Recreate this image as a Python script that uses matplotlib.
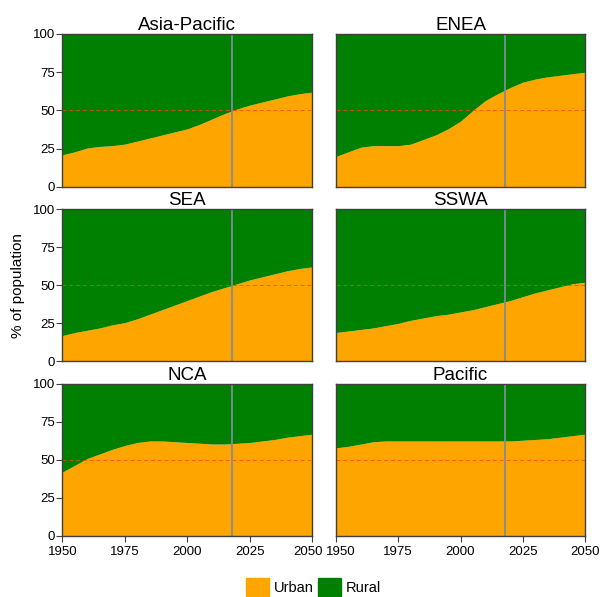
import matplotlib
matplotlib.use("Agg")
import matplotlib.pyplot as plt
import matplotlib.transforms as mtransforms
from matplotlib.patches import Patch

plt.rcParams['font.family'] = ['Liberation Sans', 'DejaVu Sans']

years = [1950, 1955, 1960, 1965, 1970, 1975, 1980, 1985, 1990, 1995, 2000,
         2005, 2010, 2015, 2020, 2025, 2030, 2035, 2040, 2045, 2050]

regions = ["Asia-Pacific", "ENEA", "SEA", "SSWA", "NCA", "Pacific"]

urban_asia_pacific = [21, 23, 25.5, 26.5, 27, 28, 30, 32, 34, 36, 38,
                      41, 44.5, 48, 51, 53.5, 55.5, 57.5, 59.5, 61, 62]
urban_enea = [20, 23, 26, 27, 27, 27, 28, 31, 34, 38, 43,
              50, 56.5, 61, 65, 68.5, 70.5, 72, 73, 74, 75]
urban_sea = [17, 19, 20.5, 22, 24, 25.5, 28, 31, 34, 37, 40,
             43, 46, 48.5, 51, 53.5, 55.5, 57.5, 59.5, 61, 62]
urban_sswa = [19, 20, 21, 22, 23.5, 25, 27, 28.5, 30, 31, 32.5,
              34, 36, 38, 40, 42.5, 45, 47, 49, 51, 52]
urban_nca = [42, 46.5, 51, 54, 57, 59.5, 61.5, 62.5, 62.5, 62, 61.5,
             61, 60.5, 60.5, 61, 61.5, 62.5, 63.5, 65, 66, 67]
urban_pacific = [58, 59, 60.5, 62, 62.5, 62.5, 62.5, 62.5, 62.5, 62.5, 62.5,
                 62.5, 62.5, 62.5, 62.5, 63, 63.5, 64, 65, 66, 67]

urban = [urban_asia_pacific, urban_enea, urban_sea, urban_sswa, urban_nca, urban_pacific]

current_year = 2018
c_urban = "#FFA500"
c_rural = "#008000"

fig = plt.figure(figsize=(6.03, 5.97), dpi=100)

lefts = [0.1033, 0.5572]
widths = [0.4146, 0.413]
bottoms = [0.6868, 0.3945, 0.1022]
heights = [0.2563, 0.2554, 0.2546]

for i, (name, u) in enumerate(zip(regions, urban)):
    row, col = divmod(i, 2)
    ax = fig.add_axes([lefts[col], bottoms[row], widths[col], heights[row]])
    ax.fill_between(years, 0, u, color=c_urban, lw=0)
    ax.fill_between(years, u, 100, color=c_rural, lw=0)
    ax.axhline(50, color="#FF4500", lw=0.7, ls=(0, (4, 3)), alpha=0.8)
    ax.axvline(current_year, color="#7F8C9A", lw=1.3)
    ax.set_xlim(1950, 2050)
    ax.set_ylim(0, 100)
    ax.set_title(name, fontsize=13.5, pad=3)
    for s in ax.spines.values():
        s.set_color("#404040")
        s.set_linewidth(1.0)
    ax.set_xticks([1950, 1975, 2000, 2025, 2050])
    ax.set_yticks([0, 25, 50, 75, 100])
    ax.tick_params(labelsize=9.5, length=4, color="#404040")
    ax.tick_params(axis="x", pad=3)
    ax.tick_params(axis="y", pad=1)
    if col == 1:
        ax.tick_params(axis="y", left=False, labelleft=False)
    if row < 2:
        ax.tick_params(axis="x", bottom=False, labelbottom=False)
    else:
        # nudge the touching end labels apart, like the original
        labs = ax.get_xticklabels()
        if col == 0:
            off = mtransforms.ScaledTranslation(-4 / 100, 0, fig.dpi_scale_trans)
            labs[-1].set_transform(labs[-1].get_transform() + off)
        else:
            off = mtransforms.ScaledTranslation(5 / 100, 0, fig.dpi_scale_trans)
            labs[0].set_transform(labs[0].get_transform() + off)
    if i == 2:
        ax.set_ylabel("% of population", fontsize=11, labelpad=6)

handles = [Patch(color=c_urban, label="Urban"), Patch(color=c_rural, label="Rural")]
fig.legend(handles=handles, loc="center", bbox_to_anchor=(0.52, 0.017), ncol=2,
           frameon=False, fontsize=10.5, handlelength=1.6, handleheight=1.5,
           handletextpad=0.3, columnspacing=0.3)

fig.savefig("out.png", dpi=100)
